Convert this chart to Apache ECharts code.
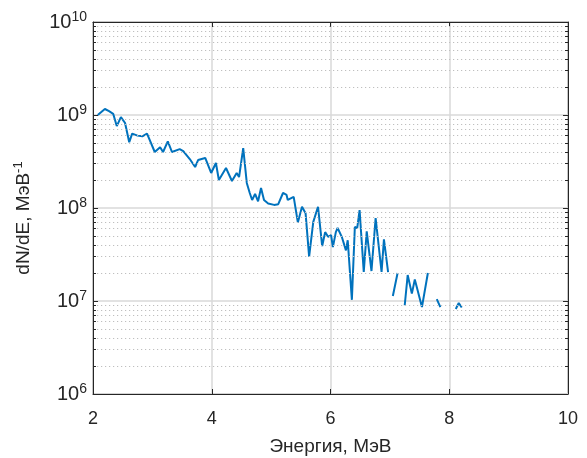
<!DOCTYPE html>
<html>
<head>
<meta charset="utf-8">
<script src="https://cdn.jsdelivr.net/npm/echarts@6/dist/echarts.min.js"></script>
<style>
  html, body { margin: 0; padding: 0; background: #fff; }
  #chart { width: 587px; height: 458px; }
</style>
</head>
<body>
<div id="chart"></div>
<script>
// энергия, МэВ (null в dNdE = разрыв линии)
const energy = [
  2.08, 2.20, 2.27, 2.34, 2.40, 2.47, 2.54, 2.61, 2.66, 2.75, 2.83, 2.91,
  3.04, 3.13, 3.18, 3.26, 3.33, 3.46, 3.52, 3.63, 3.72, 3.77, 3.89, 3.99,
  4.07, 4.12, 4.24, 4.34, 4.42, 4.46, 4.53, 4.59, 4.64, 4.68, 4.73, 4.78,
  4.83, 4.88, 4.95, 5.05, 5.12, 5.15, 5.20, 5.26, 5.28, 5.38, 5.45, 5.52,
  5.58, 5.64, 5.71, 5.74, 5.79, 5.86, 5.91, 5.96, 6.01, 6.04, 6.09, 6.12,
  6.19, 6.26, 6.29, 6.36, 6.41, 6.45, 6.49, 6.56, 6.61, 6.69, 6.76, 6.86,
  6.90, 6.97, 7.00, 7.05, 7.13, 7.19, 7.25, 7.30, 7.37, 7.42, 7.54, 7.64,
  7.70, 7.79, 7.85, 8.00, 8.11, 8.16, 8.21
]
const dNdE = [
  1.0e9, 1.16e9, 1.1e9, 1.03e9, 7.6e8, 9.5e8, 8.2e8, 5.1e8, 6.3e8, 6.0e8, 5.9e8, 6.3e8,
  4.0e8, 4.5e8, 4.0e8, 5.2e8, 4.0e8, 4.3e8, 4.1e8, 3.36e8, 2.76e8, 3.28e8, 3.45e8, 2.38e8,
  3.05e8, 2.0e8, 2.69e8, 1.95e8, 2.38e8, 2.15e8, 4.4e8, 1.86e8, 1.45e8, 1.22e8, 1.42e8, 1.18e8,
  1.64e8, 1.22e8, 1.12e8, 1.08e8, 1.1e8, 1.05e8, 1.45e8, 1.38e8, 1.22e8, 1.32e8, 7.0e7, 1.03e8,
  8.8e7, 3.0e7, 7.1e7, 6.8e7, 1.03e8, 3.9e7, 5.5e7, 4.9e7, 5.1e7, 3.8e7, 5.5e7, 6.1e7,
  4.9e7, 3.5e7, 4.5e7, 1.03e7, 6.25e7, 6.1e7, 9.5e7, 2.05e7, 5.6e7, 2.1e7, 7.8e7, 2.05e7,
  4.6e7, 2.05e7, null, 1.13e7, 2.0e7, null, 9.0e6, 1.9e7, 1.2e7, 1.7e7, 8.6e6, 2.0e7,
  null, 1.05e7, 8.6e6, null, 8.2e6, 9.5e6, 8.5e6
]
const xTicks = [2, 4, 6, 8, 10]

// промежуточные линии сетки 2..9 × 10^n
const minorValues = []
for (let d = 6; d < 10; d++) {
  for (let m = 2; m <= 9; m++) minorValues.push(m * Math.pow(10, d))
}

const chart = echarts.init(document.getElementById('chart'))

const axisColor = '#262626'
const fontFamily = '"Liberation Sans", Arial, sans-serif'

const option = {
  animation: false,
  grid: {
    left: 93, right: 19, top: 22, bottom: 64,
    outerBoundsMode: 'none', containLabel: false,
    show: true, borderColor: axisColor, borderWidth: 1
  },
  xAxis: [
    {
      type: 'value', min: xTicks[0], max: xTicks[xTicks.length - 1], interval: 2,
      name: 'Энергия, МэВ', nameLocation: 'middle', nameGap: 43,
      nameTextStyle: { fontSize: 19, color: axisColor, fontFamily },
      axisLine: { show: true, lineStyle: { color: axisColor } },
      axisTick: { inside: true, length: 5, lineStyle: { color: axisColor } },
      axisLabel: { fontSize: 18, color: axisColor, fontFamily, margin: 16 },
      splitLine: { show: true, lineStyle: { color: '#d9d9d9', width: 1.5 } }
    },
    {
      type: 'value', position: 'top', min: 2, max: 10, interval: 2,
      axisLine: { show: true, lineStyle: { color: axisColor } },
      axisTick: { inside: true, length: 5, lineStyle: { color: axisColor } },
      axisLabel: { show: false }, splitLine: { show: false }
    }
  ],
  yAxis: [
    {
      type: 'log', logBase: 10, min: 1e6, max: 1e10,
      name: 'dN/dE, МэВ{s|-1}', nameLocation: 'middle', nameGap: 58, nameRotate: 90,
      nameTextStyle: {
        fontSize: 19, color: axisColor, fontFamily, padding: [0, 20, 0, 0],
        rich: { s: { fontSize: 13, color: axisColor, fontFamily, padding: [0, 0, 10, 0] } }
      },
      axisLine: { show: true, lineStyle: { color: axisColor } },
      axisTick: { inside: true, length: 5, lineStyle: { color: axisColor } },
      axisLabel: {
        color: axisColor, fontFamily, margin: 6,
        formatter: v => '{b|10}{s|' + Math.round(Math.log10(v)) + '}',
        rich: {
          b: { fontSize: 20, color: axisColor, fontFamily },
          s: { fontSize: 14, color: axisColor, fontFamily, padding: [0, 0, 10, 0] }
        }
      },
      splitLine: { show: true, lineStyle: { color: '#d9d9d9', width: 1.5 } },
      minorTick: { show: false }
    },
    {
      type: 'log', logBase: 10, min: 1e6, max: 1e10, position: 'right',
      axisLine: { show: true, lineStyle: { color: axisColor } },
      axisTick: { inside: true, length: 5, lineStyle: { color: axisColor } },
      axisLabel: { show: false }, splitLine: { show: false }
    }
  ],
  series: [
    {
      // пунктирная сетка
      type: 'line', data: [], z: 1, silent: true,
      markLine: {
        silent: true, symbol: 'none', label: { show: false }, animation: false,
        lineStyle: { color: '#bfbfbf', type: [1.2, 2.8], width: 1.2 },
        data: minorValues.map(v => ({ yAxis: v }))
      }
    },
    {
      // мелкие засечки на левой и правой оси
      type: 'line', data: [], z: 4, silent: true,
      markLine: {
        silent: true, symbol: 'none', label: { show: false }, animation: false,
        lineStyle: { color: axisColor, type: 'solid', width: 1 },
        data: minorValues.flatMap(v => [
          [{ coord: [2, v] }, { coord: [2.05, v] }],
          [{ coord: [9.95, v] }, { coord: [10, v] }]
        ])
      }
    },
    {
      name: 'dN/dE', type: 'line', z: 3,
      data: energy.map((e, i) => [e, dNdE[i] === null ? '-' : dNdE[i]]),
      connectNulls: false, showSymbol: false, symbol: 'none',
      lineStyle: { color: '#0072BD', width: 2 }
    }
  ]
}

chart.setOption(option)
</script>
</body>
</html>
